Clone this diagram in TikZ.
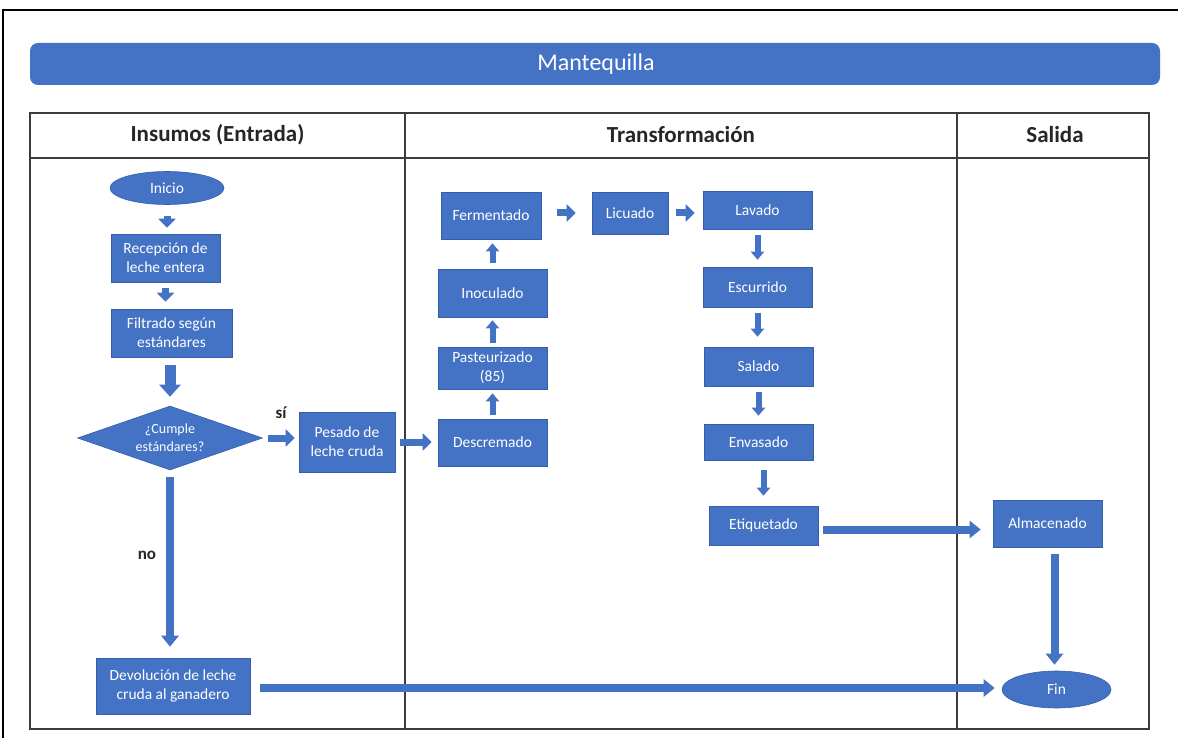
\documentclass[tikz,border=0pt]{standalone}
\usepackage{fontspec}
\setmainfont{Carlito}
\usetikzlibrary{shapes.geometric,arrows.meta}
\definecolor{flowblue}{RGB}{68,114,196}
\definecolor{edgeblue}{RGB}{52,94,170}
\definecolor{headtxt}{RGB}{38,38,38}
\definecolor{rulegray}{RGB}{60,60,60}
\tikzset{
  stepbox/.style={rectangle, fill=flowblue, draw=edgeblue, line width=0.6pt,
    text=white, align=center, inner sep=2pt,
    font=\fontsize{15.5}{19}\selectfont},
  termbox/.style={ellipse, fill=flowblue, draw=edgeblue, line width=0.6pt,
    text=white, inner sep=0pt, font=\fontsize{15.5}{19}\selectfont},
  decbox/.style={diamond, fill=flowblue, draw=edgeblue, line width=0.6pt,
    text=white, align=center, inner sep=0pt,
    font=\fontsize{14}{18}\selectfont},
  flow/.style={draw=flowblue, line width=7pt,
    -{Triangle[width=17pt,length=9pt]}},
  bigflow/.style={draw=flowblue, line width=11pt,
    -{Triangle[width=21pt,length=12pt]}},
  upflow/.style={draw=flowblue, line width=6pt,
    -{Triangle[width=13pt,length=8pt]}},
  longflow/.style={draw=flowblue, line width=8pt,
    -{Triangle[width=17pt,length=11pt]}},
  colhead/.style={text=headtxt, font=\fontsize{23}{26}\selectfont\bfseries},
  branchlbl/.style={text=headtxt, font=\fontsize{17}{19}\selectfont\bfseries},
}
\begin{document}
\begin{tikzpicture}[x=1pt,y=-1pt]
\useasboundingbox (0,0) rectangle (1178,738);
\fill[white] (0,0) rectangle (1178,738);

% outer frame
\draw[black, line width=2.5pt] (3,10) rectangle (1195,760);

% title bar
\fill[flowblue, rounded corners=8pt] (30,43) rectangle (1160,85);
\node[text=white, font=\fontsize{24}{26}\selectfont] (title) at (596,64) {Mantequilla};

% swimlane table
\draw[rulegray, line width=1.2pt] (30,113) rectangle (1149,729);
\draw[rulegray, line width=1.2pt] (30,158) -- (1149,158);
\draw[rulegray, line width=1.2pt] (405,113) -- (405,729);
\draw[rulegray, line width=1.2pt] (957,113) -- (957,729);
\node[colhead] (h1) at (217.5,135) {Insumos (Entrada)};
\node[colhead] (h2) at (681,135) {Transformación};
\node[colhead] (h3) at (1055,135) {Salida};

% input lane
\node[termbox, minimum width=114pt, minimum height=33pt] (inicio) at (167,188) {Inicio};
\node[stepbox, minimum width=109pt, minimum height=48pt] (recep) at (165.5,258) {Recepción de\\leche entera};
\node[stepbox, minimum width=121pt, minimum height=48pt] (filtr) at (171.5,333) {Filtrado según\\estándares};
\node[decbox, minimum width=185pt, minimum height=64pt, aspect=2.9] (dia) at (170,438) {¿Cumple\\estándares?};
\node[stepbox, minimum width=96pt, minimum height=60pt] (pesado) at (347,442) {Pesado de\\leche cruda};
\node[stepbox, minimum width=154pt, minimum height=56pt] (devol) at (173,686) {Devolución de leche\\cruda al ganadero};

% transformation lane
\node[stepbox, minimum width=109pt, minimum height=47pt] (descr) at (492.5,442.5) {Descremado};
\node[stepbox, minimum width=109pt, minimum height=42pt] (paste) at (492.5,368) {Pasteurizado\\(85)};
\node[stepbox, minimum width=109pt, minimum height=48pt] (inoc) at (492.5,293) {Inoculado};
\node[stepbox, minimum width=100pt, minimum height=47pt] (ferm) at (491,215.5) {Fermentado};
\node[stepbox, minimum width=76pt, minimum height=42pt] (licu) at (630,213) {Licuado};
\node[stepbox, minimum width=109pt, minimum height=38pt] (lavado) at (757.5,210) {Lavado};
\node[stepbox, minimum width=109pt, minimum height=40pt] (escur) at (757.5,287) {Escurrido};
\node[stepbox, minimum width=109pt, minimum height=39pt] (salado) at (758.5,366.5) {Salado};
\node[stepbox, minimum width=109pt, minimum height=36pt] (envas) at (758.5,442) {Envasado};
\node[stepbox, minimum width=109pt, minimum height=39pt] (etiq) at (763.5,525.5) {Etiquetado};

% output lane
\node[stepbox, minimum width=109pt, minimum height=47pt] (alm) at (1047.5,523.5) {Almacenado};
\node[termbox, minimum width=109pt, minimum height=37pt] (fin) at (1056.5,689.5) {Fin};

% branch labels
\node[branchlbl] (si) at (281,413) {sí};
\node[branchlbl] (no) at (147,555) {no};

% connectors: input lane
\draw[flow, shorten <=11pt, shorten >=6pt] (inicio.south) -- (inicio.south |- recep.north);
\draw[flow, shorten <=6pt, shorten >=7pt] (recep.south) -- (recep.south |- filtr.north);
\draw[bigflow, shorten <=8pt, shorten >=9pt] (dia.north |- filtr.south) -- (dia.north);
\draw[flow, shorten <=5pt, shorten >=4pt] (dia.east) -- (dia.east -| pesado.west);
\draw[longflow, shorten <=7pt, shorten >=11pt] (dia.south) -- (dia.south |- devol.north);

% connectors: transformation lane
\draw[flow, shorten <=5pt, shorten >=6pt] (pesado.east) -- (pesado.east -| descr.west);
\draw[upflow, shorten <=4pt, shorten >=4pt] (descr.north) -- (paste.south);
\draw[upflow, shorten <=4pt, shorten >=3pt] (paste.north) -- (inoc.south);
\draw[upflow, shorten <=6pt, shorten >=4pt] (inoc.north) -- (inoc.north |- ferm.south);
\draw[flow, shorten <=16pt, shorten >=16pt] (licu.west -| ferm.east) -- (licu.west);
\draw[flow, shorten <=8pt, shorten >=8pt] (licu.east) -- (licu.east -| lavado.west);
\draw[upflow, shorten <=6pt, shorten >=7pt] (lavado.south) -- (escur.north);
\draw[upflow, shorten <=6pt, shorten >=10pt] (escur.south) -- (escur.south |- salado.north);
\draw[upflow, shorten <=6pt, shorten >=8pt] (salado.south) -- (salado.south |- envas.north);
\draw[upflow, shorten <=10pt, shorten >=10pt] (etiq.north |- envas.south) -- (etiq.north);

% connectors: towards output
\draw[longflow, shorten <=5pt, shorten >=12pt] ([yshift=-4pt]etiq.east) -- ([yshift=-4pt]etiq.east -| alm.west);
\draw[longflow, shorten <=7pt, shorten >=6pt] ([xshift=-2pt]fin.north |- alm.south) -- ([xshift=-2pt]fin.north);
\draw[longflow, shorten <=10pt, shorten >=7pt] ([yshift=1.5pt]devol.east |- fin.west) -- ([yshift=1.5pt]fin.west);
\end{tikzpicture}
\end{document}
